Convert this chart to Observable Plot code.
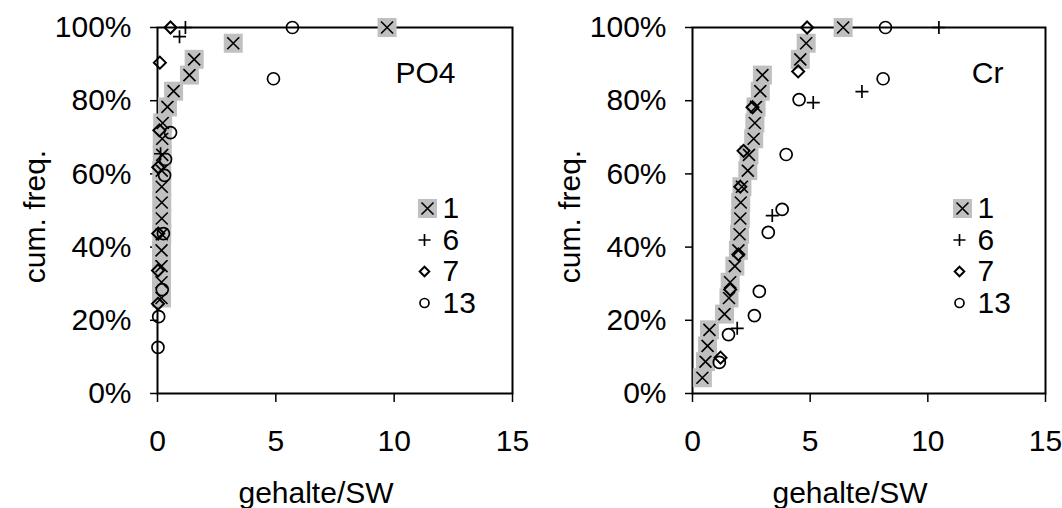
<!DOCTYPE html>
<html>
<head>
<meta charset="utf-8">
<script src="https://cdn.jsdelivr.net/npm/d3@7"></script>
<script src="https://cdn.jsdelivr.net/npm/@observablehq/plot@0.6"></script>
<style>
  body { margin: 0; background: #fff; }
  #charts { display: flex; width: 1062px; height: 508px; }
</style>
</head>
<body>
<div id="charts"></div>
<script>
// Legend names of the four series
const seriesNames = ["1", "6", "7", "13"];
const xTicks = [0, 5, 10, 15];
const yTicks = [0, 20, 40, 60, 80, 100];

// PO4: content / SW (x) and cumulative frequency in % (f)
const po4_1_x = [0.17, 0.17, 0.17, 0.17, 0.18, 0.18, 0.18, 0.18, 0.18, 0.2, 0.2, 0.22, 0.42, 0.68, 1.35, 1.55, 3.2, 9.7];
const po4_1_f = [26.1, 30.4, 34.8, 39.1, 43.5, 47.8, 52.2, 56.5, 60.9, 65.2, 69.6, 73.9, 78.3, 82.6, 87.0, 91.3, 95.7, 100];
const po4_6_x = [0.13, 0.93, 1.18];
const po4_6_f = [65.5, 97.5, 100];
const po4_7_x = [0.02, 0.02, 0.03, 0.03, 0.08, 0.1, 0.55];
const po4_7_f = [24.5, 33.6, 43.7, 61.8, 71.9, 90.4, 100];
const po4_13_x = [0.02, 0.05, 0.2, 0.25, 0.3, 0.34, 0.55, 4.9, 5.7];
const po4_13_f = [12.6, 21.0, 28.4, 43.7, 59.6, 64.0, 71.3, 86.0, 100];

// Cr: content / SW (x) and cumulative frequency in % (f)
const cr_1_x = [0.42, 0.55, 0.64, 0.72, 1.36, 1.55, 1.6, 1.8, 1.95, 2.0, 2.03, 2.05, 2.1, 2.35, 2.4, 2.6, 2.65, 2.7, 2.88, 2.97, 4.58, 4.83, 6.4];
const cr_1_f = [4.3, 8.7, 13.0, 17.4, 21.7, 26.1, 30.4, 34.8, 39.1, 43.5, 47.8, 52.2, 56.5, 60.9, 65.2, 69.6, 73.9, 78.3, 82.6, 87.0, 91.3, 95.7, 100];
const cr_6_x = [1.9, 3.39, 5.13, 7.2, 10.47];
const cr_6_f = [17.8, 48.6, 79.5, 82.5, 100];
const cr_7_x = [1.19, 1.6, 1.95, 2.03, 2.17, 2.55, 4.49, 4.87];
const cr_7_f = [9.8, 28.4, 38.0, 56.5, 66.3, 78.2, 88.0, 100];
const cr_13_x = [1.14, 1.53, 2.63, 2.84, 3.22, 3.81, 3.98, 4.53, 8.1, 8.2];
const cr_13_f = [8.5, 16.1, 21.3, 27.9, 44.0, 50.3, 65.3, 80.3, 86.0, 100];

const ink = "black";
const silver = "#c0c0c0";
const font = "'Liberation Sans', Arial, sans-serif";
const fontSize = 30;

// Marker shapes; r is the half-extent of each shape
const radius = (size) => Math.sqrt(size / Math.PI);
const symTimes = { draw(c, s) { const r = radius(s); c.moveTo(-r, -r); c.lineTo(r, r); c.moveTo(r, -r); c.lineTo(-r, r); } };
const symPlus = { draw(c, s) { const r = radius(s); c.moveTo(-r, 0); c.lineTo(r, 0); c.moveTo(0, -r); c.lineTo(0, r); } };
const symDiamond = { draw(c, s) { const r = radius(s); c.moveTo(0, -r); c.lineTo(r, 0); c.lineTo(0, r); c.lineTo(-r, 0); c.closePath(); } };
const symSquare = { draw(c, s) { const r = radius(s); c.rect(-r, -r, 2 * r, 2 * r); } };

const pts = (xs, fs) => xs.map((x, i) => ({ x, f: fs[i] }));

// Series 1: grey box with a cross, drawn point by point so that each box
// sits over the previous cross
function boxedCross(data, opts = {}) {
  return data.flatMap((p) => [
    Plot.dot([p], { ...opts, r: 9.5, symbol: symSquare, fill: silver, stroke: "none" }),
    Plot.dot([p], { ...opts, r: 6, symbol: symTimes, stroke: ink, strokeWidth: 1.6 })
  ]);
}

function panel({ title, s1, s6, s7, s13, marginLeft, marginRight, titleDx, labelDx }) {
  const xy = { x: "x", y: "f" };
  const legendDy = (i) => 181 + 31.5 * i;
  const legendAt = (i) => ({ frameAnchor: "top-left", dx: 270, dy: legendDy(i) });
  return Plot.plot({
    width: 531,
    height: 508,
    marginTop: 27,
    marginBottom: 115,
    marginLeft,
    marginRight,
    style: { fontFamily: font, fontSize: `${fontSize}px`, color: ink, background: "white", overflow: "visible" },
    x: { domain: [0, 15] },
    y: { domain: [0, 100] },
    marks: [
      Plot.frame({ stroke: ink, strokeWidth: 2 }),
      Plot.axisX({ ticks: xTicks, tickSize: 9, tickPadding: 27, fontSize, label: null, strokeWidth: 1.5 }),
      Plot.axisY({ ticks: yTicks, tickSize: 7, tickPadding: 19, fontSize, label: null, strokeWidth: 1.5, tickFormat: (d) => `${d}%` }),
      Plot.text(["gehalte/SW"], { text: (d) => d, frameAnchor: "bottom", dx: -19, dy: 100, lineAnchor: "middle", textAnchor: "middle", fontSize }),
      Plot.text(["cum. freq."], { text: (d) => d, frameAnchor: "left", dx: labelDx, dy: 6, rotate: -90, lineAnchor: "middle", textAnchor: "middle", fontSize }),
      Plot.text([title], { text: (d) => d, frameAnchor: "top-right", dx: titleDx, dy: 46, textAnchor: "end", lineAnchor: "middle", fontSize }),

      // data
      ...boxedCross(s1, xy),
      Plot.dot(s6, { ...xy, r: 6.5, symbol: symPlus, stroke: ink, strokeWidth: 1.7 }),
      Plot.dot(s7, { ...xy, r: 6, symbol: symDiamond, fill: "none", stroke: ink, strokeWidth: 2 }),
      Plot.dot(s13, { ...xy, r: 6, symbol: "circle", fill: "none", stroke: ink, strokeWidth: 1.7 }),

      // legend
      Plot.dot([seriesNames[0]], { ...legendAt(0), r: 9.5, symbol: symSquare, fill: silver, stroke: "none" }),
      Plot.dot([seriesNames[0]], { ...legendAt(0), r: 6, symbol: symTimes, stroke: ink, strokeWidth: 1.6 }),
      Plot.dot([seriesNames[1]], { ...legendAt(1), dx: 267, r: 6, symbol: symPlus, stroke: ink, strokeWidth: 1.7 }),
      Plot.dot([seriesNames[2]], { ...legendAt(2), dx: 267, r: 4.8, symbol: symDiamond, fill: "none", stroke: ink, strokeWidth: 2 }),
      Plot.dot([seriesNames[3]], { ...legendAt(3), dx: 267, r: 4.5, symbol: "circle", fill: "none", stroke: ink, strokeWidth: 1.7 }),
      ...seriesNames.map((name, i) =>
        Plot.text([name], { text: (d) => d, frameAnchor: "top-left", dx: 285, dy: legendDy(i), textAnchor: "start", lineAnchor: "middle", fontSize })
      )
    ]
  });
}

const charts = document.getElementById("charts");
charts.append(
  panel({
    title: "PO4",
    s1: pts(po4_1_x, po4_1_f), s6: pts(po4_6_x, po4_6_f), s7: pts(po4_7_x, po4_7_f), s13: pts(po4_13_x, po4_13_f),
    marginLeft: 157, marginRight: 19, titleDx: -57, labelDx: -122
  }),
  panel({
    title: "Cr",
    s1: pts(cr_1_x, cr_1_f), s6: pts(cr_6_x, cr_6_f), s7: pts(cr_7_x, cr_7_f), s13: pts(cr_13_x, cr_13_f),
    marginLeft: 161, marginRight: 17, titleDx: -42, labelDx: -122
  })
);
</script>
</body>
</html>
